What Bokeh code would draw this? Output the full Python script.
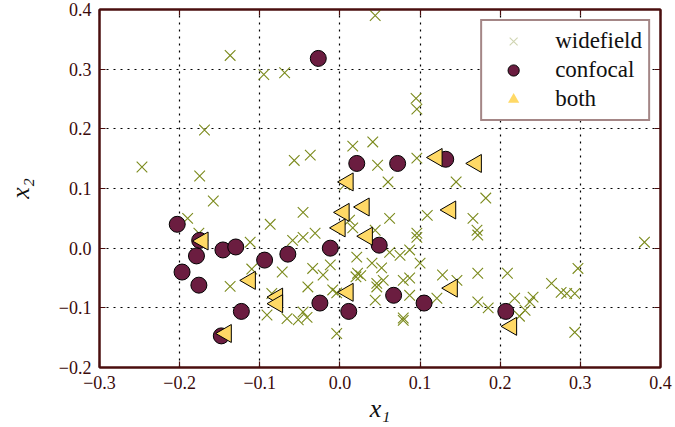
import math
from bokeh.plotting import figure
from bokeh.models import (ColumnDataSource, LinearAxis, FixedTicker, Legend, LegendItem, Range1d)
from bokeh.embed import file_html
from bokeh.resources import INLINE

# ---- data ----
wide_x = [0.044, -0.137, -0.095, -0.069, 0.095, 0.096, -0.169, -0.247, -0.175, -0.057,
          -0.037, 0.016, 0.041, 0.047, 0.060, 0.096, 0.145, 0.006, -0.158, -0.190,
          -0.087, -0.046, 0.062, 0.109, -0.031, 0.016, 0.044, 0.096, 0.182, 0.166,
          0.171, 0.172, -0.176, -0.112, -0.059, -0.046, -0.072, -0.110, -0.137, -0.085,
          -0.091, -0.066, -0.052, -0.046, 0.021, -0.034, -0.012, 0.022, 0.026, 0.020,
          -0.040, -0.009, 0.075, 0.087, 0.054, 0.079, -0.041, 0.079, -0.004, 0.046,
          0.044, 0.096, 0.062, 0.100, 0.052, 0.046, 0.087, 0.128, 0.146, 0.172,
          0.209, 0.121, 0.087, 0.172, 0.185, 0.218, 0.241, 0.237, 0.231, 0.264,
          0.276, 0.380, 0.297, 0.283, 0.293, 0.293, 0.079, 0.224, -0.004, 0.012,
          -0.021, 0.040]
wide_y = [0.390, 0.323, 0.291, 0.294, 0.251, 0.233, 0.198, 0.136, 0.121, 0.147,
          0.156, 0.171, 0.178, 0.139, 0.111, 0.151, 0.111, 0.106, 0.079, 0.050,
          0.040, 0.060, 0.050, 0.055, 0.025, 0.034, 0.030, 0.025, 0.084, 0.050,
          0.030, 0.022, 0.025, 0.010, 0.013, 0.018, -0.040, -0.035, -0.064, -0.076,
          -0.112, -0.118, -0.120, -0.107, -0.015, -0.034, -0.028, -0.042, -0.046, -0.048,
          -0.065, -0.070, -0.012, -0.003, -0.054, -0.054, -0.116, -0.117, -0.143, -0.065,
          -0.087, 0.018, -0.007, -0.025, -0.033, -0.059, -0.050, -0.045, -0.054, -0.042,
          -0.042, -0.084, -0.079, -0.090, -0.100, -0.084, -0.082, -0.090, -0.104, -0.059,
          -0.074, 0.010, -0.034, -0.076, -0.076, -0.141, -0.121, -0.114, -0.075, 0.047,
          -0.045, -0.025]

conf_x = [-0.027, 0.072, 0.132, 0.021, -0.203, -0.175, -0.179, -0.146, -0.130, -0.094,
          -0.065, -0.012, -0.197, -0.176, -0.123, -0.025, 0.011, -0.148, 0.049, 0.067,
          0.105, 0.207]
conf_y = [0.318, 0.142, 0.149, 0.142, 0.040, 0.013, -0.013, -0.003, 0.002, -0.020,
          -0.010, 0.000, -0.040, -0.062, -0.106, -0.092, -0.106, -0.147, 0.005, -0.079,
          -0.092, -0.106]

both_x = [0.121, 0.170, 0.138, 0.010, 0.030, 0.005, 0.000, 0.034, -0.171, -0.112,
          -0.078, -0.078, 0.010, -0.142, 0.140, 0.214]
both_y = [0.152, 0.142, 0.064, 0.111, 0.069, 0.060, 0.034, 0.020, 0.012, -0.054,
          -0.082, -0.093, -0.074, -0.143, -0.067, -0.131]

x_ticks = [-0.3, -0.2, -0.1, 0.0, 0.1, 0.2, 0.3, 0.4]
x_tick_labels = ["\u22120.3", "\u22120.2", "\u22120.1", "0.0", "0.1", "0.2", "0.3", "0.4"]
y_ticks = [-0.2, -0.1, 0.0, 0.1, 0.2, 0.3, 0.4]
y_tick_labels = ["\u22120.2", "\u22120.1", "0.0", "0.1", "0.2", "0.3", "0.4"]

FONT = "Liberation Serif"
FRAME = "#4a0e0e"
TEXT = "#3a0a0a"

p = figure(frame_width=561, frame_height=358, output_backend="svg", toolbar_location=None,
           x_range=Range1d(-0.3, 0.4), y_range=Range1d(-0.2, 0.4),
           min_border_left=99, min_border_right=15, min_border_top=9, min_border_bottom=58,
           x_axis_label="x\u2081", y_axis_label="x\u2082")
p.background_fill_color = "white"
p.border_fill_color = "white"
p.outline_line_color = FRAME
p.outline_line_width = 2

for ax, ticks, labels in ((p.xaxis[0], x_ticks, x_tick_labels), (p.yaxis[0], y_ticks, y_tick_labels)):
    ax.ticker = FixedTicker(ticks=ticks)
    ax.major_label_overrides = {t: l for t, l in zip(ticks, labels)}
    ax.major_label_text_font = FONT
    ax.major_label_text_font_size = "18px"
    ax.major_label_text_color = TEXT
    ax.axis_label_text_font = FONT
    ax.axis_label_text_font_size = "26px"
    ax.axis_label_text_font_style = "italic"
    ax.axis_label_text_color = "#111111"
    ax.axis_line_color = FRAME
    ax.axis_line_width = 2
    ax.major_tick_in = 6
    ax.major_tick_out = 0
    ax.major_tick_line_color = FRAME
    ax.major_tick_line_width = 1.2
    ax.minor_tick_line_color = None
    ax.major_label_standoff = 8
p.xaxis[0].axis_label_standoff = 2
p.yaxis[0].axis_label_standoff = 21

for side, ticks in (("above", x_ticks), ("right", y_ticks)):
    a = LinearAxis(ticker=FixedTicker(ticks=ticks), major_label_text_font_size="0px",
                   major_tick_in=6, major_tick_out=0, major_tick_line_color=FRAME,
                   major_tick_line_width=1.2, minor_tick_line_color=None,
                   axis_line_color=FRAME, axis_line_width=2, major_label_standoff=0)
    p.add_layout(a, side)

p.xgrid.ticker = FixedTicker(ticks=x_ticks)
p.ygrid.ticker = FixedTicker(ticks=y_ticks)
for g in (p.xgrid[0], p.ygrid[0]):
    g.grid_line_color = "black"
    g.grid_line_dash = "2 5"
    g.grid_line_width = 1.2

src_w = ColumnDataSource(dict(x=wide_x, y=wide_y))
src_c = ColumnDataSource(dict(x=conf_x, y=conf_y))
src_b = ColumnDataSource(dict(x=both_x, y=both_y))

OLIVE = "#7b8a1c"
rw = p.scatter("x", "y", source=src_w, marker="x", size=15, line_color=OLIVE, line_width=1.1)
rc = p.scatter("x", "y", source=src_c, marker="circle", size=16, fill_color="#6b1d40",
               line_color="black", line_width=1)
rb = p.scatter("x", "y", source=src_b, marker="triangle", size=18, angle=math.pi / 2,
               fill_color="#ffd966", line_color="black", line_width=1)

# legend-only renderers (one point placed outside the visible range)
rw_leg = p.scatter(x=[10], y=[10], marker="x", size=15, line_color="#cfd4b0", line_width=1.1)
rb_leg = p.scatter(x=[10], y=[10], marker="triangle", size=16, angle=math.pi / 2,
                   fill_color="#ffd966", line_color=None)

legend = Legend(items=[LegendItem(label="widefield", renderers=[rw_leg]),
                       LegendItem(label="confocal", renderers=[rc]),
                       LegendItem(label="both", renderers=[rb_leg])],
                location="top_right")
legend.label_text_font = FONT
legend.label_text_font_size = "23px"
legend.label_text_color = "#111111"
legend.border_line_color = FRAME
legend.border_line_width = 2
legend.background_fill_color = "white"
legend.background_fill_alpha = 1
legend.margin = 10
legend.padding = 6
legend.spacing = 1
legend.glyph_width = 50
legend.glyph_height = 28
legend.label_standoff = 17
legend.label_height = 28
p.add_layout(legend)

open("out.html", "w").write(file_html(p, INLINE))
